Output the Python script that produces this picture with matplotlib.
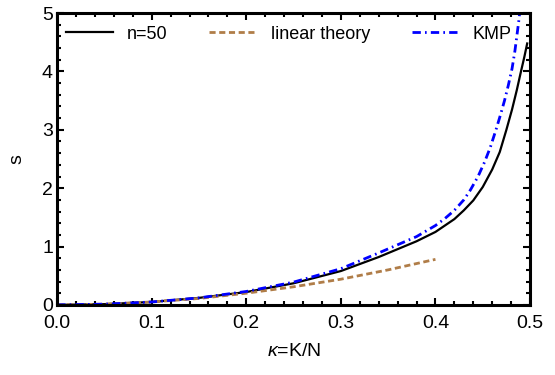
import matplotlib
matplotlib.use("Agg")
from matplotlib import pyplot as plt
from matplotlib.ticker import MultipleLocator

plt.rcParams['font.family'] = ['Liberation Sans', 'DejaVu Sans']
plt.rcParams['mathtext.fontset'] = 'custom'
plt.rcParams['mathtext.it'] = 'Liberation Sans:italic'

# n=50 curve
k_n50 = [0, 0.05, 0.1, 0.15, 0.2, 0.25, 0.3, 0.34, 0.38, 0.40, 0.42, 0.43,
         0.44, 0.45, 0.46, 0.468, 0.475, 0.481, 0.486, 0.49, 0.494, 0.497]
s_n50 = [0, 0.012, 0.05, 0.12, 0.22, 0.37, 0.58, 0.82, 1.09, 1.25, 1.47, 1.62,
         1.79, 2.02, 2.32, 2.62, 3.0, 3.35, 3.68, 3.97, 4.25, 4.48]

# linear theory
k_lin = [0, 0.05, 0.1, 0.15, 0.2, 0.25, 0.3, 0.35, 0.4]
s_lin = [0, 0.012, 0.05, 0.11, 0.2, 0.31, 0.44, 0.6, 0.78]

# KMP
k_kmp = [0, 0.05, 0.1, 0.15, 0.2, 0.25, 0.3, 0.34, 0.38, 0.40, 0.41, 0.42,
         0.43, 0.437, 0.445, 0.452, 0.458, 0.464, 0.469, 0.473, 0.477, 0.481,
         0.484, 0.486, 0.488, 0.490]
s_kmp = [0, 0.012, 0.05, 0.12, 0.23, 0.39, 0.62, 0.89, 1.17, 1.36, 1.48, 1.62,
         1.80, 1.97, 2.2, 2.45, 2.70, 3.0, 3.27, 3.5, 3.76, 4.05,
         4.35, 4.6, 4.85, 5.15]

fig = plt.figure(figsize=(5.55, 3.75), dpi=100)
ax = fig.add_axes([0.103, 0.187, 0.852, 0.778])

ax.plot(k_n50, s_n50, color="black", lw=1.6, label="n=50")
ax.plot(k_lin, s_lin, color="#B07D48", lw=2.0, ls=(0, (2.2, 1.3)), label="linear theory")
ax.plot(k_kmp, s_kmp, color="blue", lw=2.0, ls=(0, (3.0, 1.5, 0.6, 1.5)), label="KMP")

ax.set_xlim(0, 0.5)
ax.set_ylim(0, 5)
ax.xaxis.set_major_locator(MultipleLocator(0.1))
ax.xaxis.set_minor_locator(MultipleLocator(0.02))
ax.yaxis.set_major_locator(MultipleLocator(1))
ax.yaxis.set_minor_locator(MultipleLocator(0.2))
ax.tick_params(which="both", direction="in", top=True, right=True, width=1.5, labelsize=14)
ax.tick_params(which="major", length=5)
ax.tick_params(which="minor", length=3)
ax.tick_params(axis="x", pad=7)
ax.tick_params(axis="y", pad=3)
ax.xaxis.set_major_formatter(plt.FuncFormatter(lambda v, p: "%.1f" % v))
for sp in ax.spines.values():
    sp.set_linewidth(2.2)

ax.set_xlabel(r"$\kappa$=K/N", fontsize=14, labelpad=8)
ax.set_ylabel("s", fontsize=14, labelpad=12)

ax.legend(loc="upper center", ncol=3, frameon=False, fontsize=13,
          handlelength=2.6, columnspacing=2.3, handletextpad=0.8,
          bbox_to_anchor=(0.49, 1.0), borderaxespad=0.3)

fig.savefig("out.png", dpi=100)
